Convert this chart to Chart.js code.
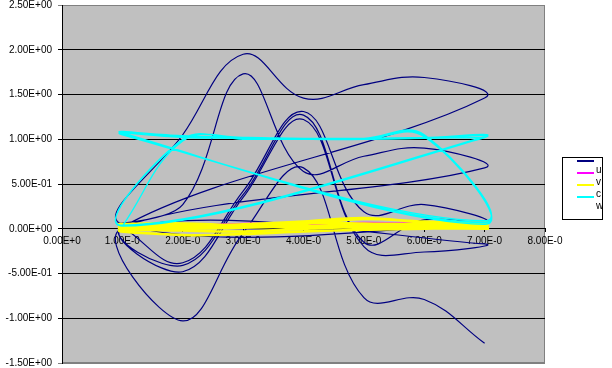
<!DOCTYPE html>
<html lang="en">
<head>
    <meta charset="UTF-8">
    <title>loops</title>
    <style type="text/css">
        html, body { margin: 0; padding: 0; background: #ffffff; }
        .chartBox { width: 612px; height: 368px; }
    </style>
</head>
<body>
    <div class="chartBox">
        <canvas id="myChart" width="612" height="368"></canvas>
    </div>

    <script src="https://cdn.jsdelivr.net/npm/chart.js"></script>
    <script>
        // every series runs through x = 1..7 again and again
        var cycleX = [1, 2, 3, 4, 5, 6, 7];

        var navyY = [
            0.02, -0.38, 0.42, 1.31, 0.19, 0.27, 0.07,
            0.05, 1.05, 1.95, 1.46, 1.61, 1.69, 1.46,
            0.02, -0.41, 0.38, 1.27, -0.15, 0.10, 0.02,
            0.05, 0.27, 1.73, 0.64, 0.81, 0.90, 0.68,
            0.02, -0.48, 0.35, 1.22, -0.20, -0.26, -0.17,
            0.00, -1.03, -0.05, 0.68, -0.77, -0.79, -1.28
        ];
        var magentaY = [
            0.01, 0.02, 0.05, 0.06, 0.06, 0.07, 0.07,
            0.02, 0.03, 0.06, 0.05, 0.07, 0.06, 0.08
        ];
        var yellowY = [
            0.02, 0.04, 0.03, 0.06, 0.11, 0.08, 0.06,
            0.00, -0.02, -0.03, 0.00, 0.02, 0.01, 0.00,
            0.05, 0.06, 0.04, 0.07, 0.06, 0.05, 0.07,
            -0.02, -0.07, -0.06, -0.03, -0.01, 0.00, 0.02,
            0.03, 0.02, 0.05, 0.08, 0.12, 0.07, 0.04,
            0.01, 0.00, 0.01, 0.03, 0.04, 0.03, 0.01
        ];
        var cyanY = [
            0.03, 0.98, 1.02, 1.00, 1.00, 1.04, 0.05,
            1.07, 1.03, 1.02, 1.01, 1.00, 1.01, 1.02,
            0.03, 1.00, 1.00, 1.00, 1.01, 1.05, 0.07,
            1.06, 1.04, 1.02, 1.01, 1.01, 1.02, 1.03,
            0.04, 0.99, 1.01, 1.00, 1.00, 1.03, 0.09,
            1.05, 1.02, 1.01, 1.00, 1.00, 1.01, 1.02
        ];

        var xTickLabels = ['0.00E+0', '1.00E-0', '2.00E-0', '3.00E-0', '4.00E-0',
                           '5.00E-0', '6.00E-0', '7.00E-0', '8.00E-0'];
        var yTickLabels = ['-1.50E+00', '-1.00E+00', '-5.00E-01', '0.00E+00', '5.00E-01',
                           '1.00E+00', '1.50E+00', '2.00E+00', '2.50E+00'];
        var legendLabels = ['u', 'v', 'c', 'w'];

        function toPoints(ys) {
            return ys.map(function (y, i) { return { x: cycleX[i % cycleX.length], y: y }; });
        }

        var seriesColors = ['#000080', '#ff00ff', '#ffff00', '#00ffff'];

        var plotBack = {
            id: 'plotBack',
            beforeDraw: function (chart) {
                var a = chart.chartArea;
                var c = chart.ctx;
                c.save();
                c.fillStyle = '#c0c0c0';
                c.fillRect(a.left, a.top, a.right - a.left, a.bottom - a.top);
                c.strokeStyle = '#808080';
                c.lineWidth = 1;
                c.strokeRect(a.left + 0.5, a.top + 0.5, a.right - a.left - 1, a.bottom - a.top - 1);
                c.restore();
            }
        };

        // excel style legend box, the names sit one row below their lines
        var sideLegend = {
            id: 'sideLegend',
            afterDraw: function (chart) {
                var c = chart.ctx;
                c.save();
                c.fillStyle = '#ffffff';
                c.fillRect(562, 157, 41, 62);
                c.strokeStyle = '#000000';
                c.lineWidth = 1;
                c.strokeRect(562.5, 157.5, 40, 62);
                c.beginPath();
                c.rect(563, 158, 39, 61);
                c.clip();
                for (var i = 0; i < seriesColors.length; i++) {
                    var ly = 161 + i * 12;
                    c.strokeStyle = seriesColors[i];
                    c.lineWidth = 2;
                    c.beginPath();
                    c.moveTo(577, ly);
                    c.lineTo(594, ly);
                    c.stroke();
                }
                c.fillStyle = '#000000';
                c.font = '10px "Liberation Sans", Arial, sans-serif';
                c.textAlign = 'left';
                c.textBaseline = 'middle';
                for (var j = 0; j < legendLabels.length; j++) {
                    c.fillText(legendLabels[j], 596, 170 + j * 12);
                }
                c.restore();
            }
        };

        var tickFont = { family: '"Liberation Sans", Arial, sans-serif', size: 10, lineHeight: 1 };

        var myChart = new Chart(document.getElementById('myChart').getContext('2d'), {
            type: 'scatter',
            data: {
                datasets: [{
                    data: toPoints(navyY),
                    borderColor: seriesColors[0],
                    borderWidth: 1.2,
                    order: 4
                }, {
                    data: toPoints(magentaY),
                    borderColor: seriesColors[1],
                    borderWidth: 1.5,
                    order: 3
                }, {
                    data: toPoints(yellowY),
                    borderColor: seriesColors[2],
                    borderWidth: 2.5,
                    order: 2
                }, {
                    data: toPoints(cyanY),
                    borderColor: seriesColors[3],
                    borderWidth: 1.4,
                    order: 1
                }]
            },
            options: {
                responsive: false,
                animation: false,
                showLine: true,
                elements: {
                    point: { radius: 0 },
                    line: { tension: 0.4, fill: false }
                },
                layout: {
                    padding: { top: 5, right: 67, bottom: 5, left: 0 }
                },
                scales: {
                    x: {
                        type: 'linear',
                        min: 0,
                        max: 8,
                        position: { y: 0 },
                        ticks: {
                            stepSize: 1,
                            autoSkip: false,
                            maxRotation: 0,
                            padding: 4,
                            color: '#000000',
                            font: tickFont,
                            callback: function (v, i) { return xTickLabels[i]; }
                        },
                        grid: { drawOnChartArea: false, drawTicks: true, tickLength: 3, color: '#000000' },
                        border: { color: '#000000', width: 1 }
                    },
                    y: {
                        min: -1.5,
                        max: 2.5,
                        afterFit: function (scale) {
                            scale.width = 62;
                            scale.paddingTop = 5;
                            scale.paddingBottom = 5;
                        },
                        ticks: {
                            stepSize: 0.5,
                            padding: 6,
                            color: '#000000',
                            font: tickFont,
                            callback: function (v, i) { return yTickLabels[i]; }
                        },
                        grid: {
                            tickLength: 4,
                            color: function (ctx) {
                                var v = ctx.tick ? ctx.tick.value : 0;
                                return (v === 2.5 || v === -1.5) ? '#808080' : '#000000';
                            }
                        },
                        border: { color: '#000000', width: 1 }
                    }
                },
                plugins: {
                    legend: { display: false },
                    tooltip: { enabled: false }
                }
            },
            plugins: [plotBack, sideLegend]
        });
    </script>
</body>
</html>
